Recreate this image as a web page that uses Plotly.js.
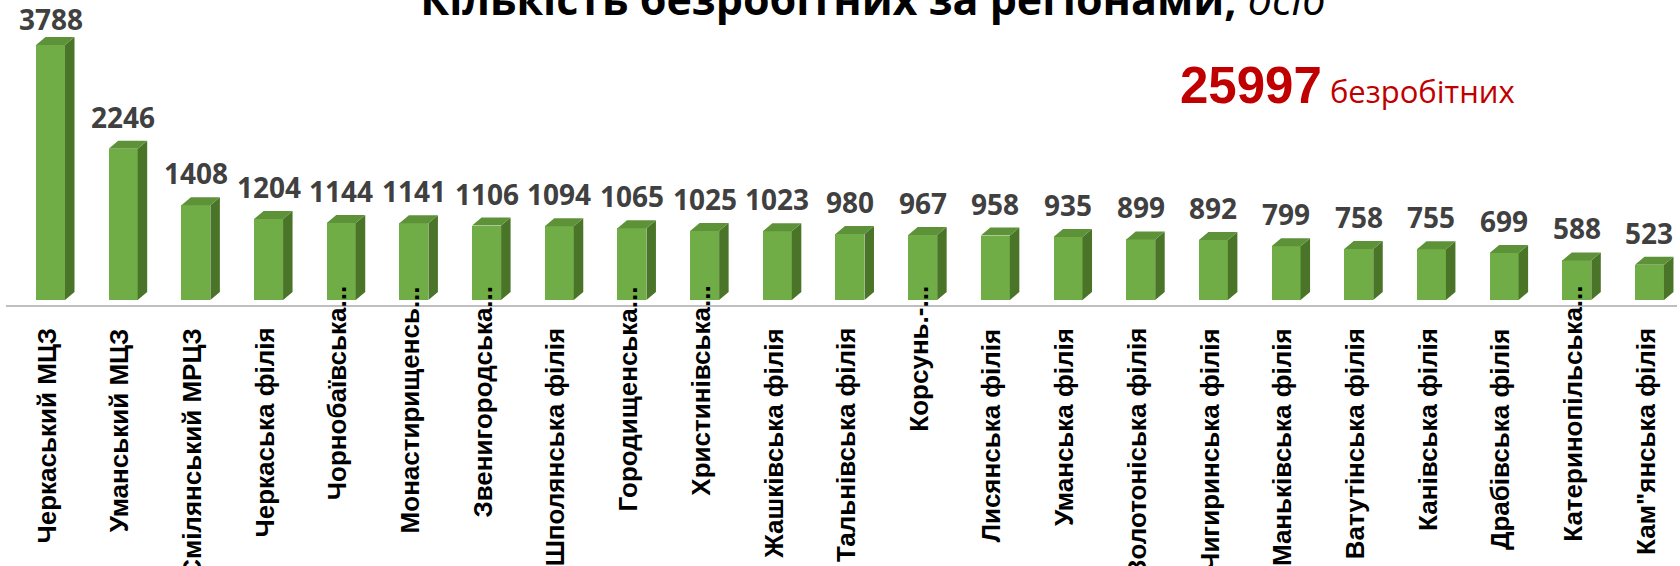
<!DOCTYPE html>
<html>
<head>
<meta charset="utf-8">
<script src="https://cdn.plot.ly/plotly-3.0.1.min.js"></script>
<style>
html,body{margin:0;padding:0;background:#ffffff;}
#chart{width:1680px;height:566px;}
</style>
</head>
<body>
<div id="chart"></div>
<script>
// ---- data ----
const categories = [
  'Черкаський МЦЗ', 'Уманський МЦЗ', 'Смілянський МРЦЗ', 'Черкаська філія',
  'Чорнобаївська...', 'Монастирищенсь...', 'Звенигородська...', 'Шполянська філія',
  'Городищенська...', 'Христинівська...', 'Жашківська філія', 'Тальнівська філія',
  'Корсунь.-...', 'Лисянська філія', 'Уманська філія', 'Золотоніська філія',
  'Чигиринська філія', 'Маньківська філія', 'Ватутінська філія', 'Канівська філія',
  'Драбівська філія', 'Катеринопільська...', 'Кам"янська філія'
];
const values = [
  3788, 2246, 1408, 1204,
  1144, 1141, 1106, 1094,
  1065, 1025, 1023, 980,
  967, 958, 935, 899,
  892, 799, 758, 755,
  699, 588, 523
];
const totalValue = 25997;
const totalWord = 'безробітних';
const titleMain = 'Кількість безробітних за регіонами';
const titleUnit = 'осіб';

// ---- layout constants ----
const W = 1680, H = 566;
const plotBottom = 300;            // pixel row of the value axis zero
const plotH = plotBottom;          // margin.t = 0
const xRange = [-0.695, 22.42];
const yRange = [0, 4456];
const pxPerCat = W / (xRange[1] - xRange[0]);
const pxPerUnit = plotH / (yRange[1] - yRange[0]);
const frontPx = 29, depthX = 9.5, depthY = 8;
const half = frontPx / 2;
const depthYData = depthY / pxPerUnit;

const colFront = '#70AD47', colTop = '#5E9239', colSide = '#4A7529';

const xs = categories.map((_, i) => i);

const barTrace = {
  type: 'bar',
  x: xs,
  y: values,
  width: frontPx / pxPerCat,
  marker: {color: colFront, line: {width: 0}},
  hoverinfo: 'skip',
  showlegend: false
};

const shapes = [];
xs.forEach((xi, i) => {
  const v = values[i];
  // side face (x in pixels from the bar centre, y in data units)
  shapes.push({
    type: 'path', xref: 'x', yref: 'y',
    xsizemode: 'pixel', xanchor: xi,
    path: `M ${half} 0 L ${half + depthX} ${depthYData} L ${half + depthX} ${v + depthYData} L ${half} ${v} Z`,
    fillcolor: colSide, line: {width: 0}, layer: 'above'
  });
  // top face (pixels from the bar top)
  shapes.push({
    type: 'path', xref: 'x', yref: 'y',
    xsizemode: 'pixel', ysizemode: 'pixel', xanchor: xi, yanchor: v,
    path: `M ${-half} 0 L ${half} 0 L ${half + depthX} ${depthY} L ${-half + depthX} ${depthY} Z`,
    fillcolor: colTop, line: {width: 0}, layer: 'above'
  });
});
// floor line
shapes.push({
  type: 'line', xref: 'paper', yref: 'paper',
  x0: 6 / W, x1: 1677 / W, y0: -6 / plotH, y1: -6 / plotH,
  line: {color: '#BFBFBF', width: 2}
});

const annotations = [];
// value labels (kept inside the chart area, like the original)
const valueFontSize = 28;
const valueBoxH = 1.36 * valueFontSize + 2;
xs.forEach((xi, i) => {
  const topPx = plotBottom - values[i] * pxPerUnit;
  annotations.push({
    x: xi, y: values[i], xref: 'x', yref: 'y',
    text: '<b>' + values[i] + '</b>',
    showarrow: false, xanchor: 'center', yanchor: 'bottom',
    yshift: Math.min(11, topPx - valueBoxH),
    font: {family: 'Open Sans', size: valueFontSize, color: '#404040'}
  });
});
// category labels
xs.forEach((xi, i) => {
  const truncated = categories[i].endsWith('...');
  annotations.push({
    x: xi, y: 0, xref: 'x', yref: 'y',
    text: '<b>' + categories[i] + '</b>',
    textangle: -90,
    showarrow: false, xanchor: 'center', yanchor: 'top',
    xshift: -4, yshift: truncated ? 16 : -26,
    font: {family: 'Liberation Sans', size: 26, color: '#000000'}
  });
});
// total
annotations.push({
  xref: 'paper', yref: 'paper', x: 1178 / W, y: (plotBottom - 116) / plotH,
  xanchor: 'left', yanchor: 'bottom', showarrow: false,
  text: '<b>' + totalValue + '</b><span style="font-family:\'Open Sans\';font-size:31px"> ' + totalWord + '</span>',
  font: {family: 'Liberation Sans', size: 51, color: '#C00000'}
});

const layout = {
  width: W, height: H,
  margin: {l: 0, r: 0, t: 0, b: H - plotBottom, pad: 0},
  paper_bgcolor: '#ffffff', plot_bgcolor: '#ffffff',
  title: {
    text: '<b>' + titleMain + ',</b> <i>' + titleUnit + '</i>',
    font: {family: 'Open Sans', size: 43, color: '#000000'},
    xref: 'container', x: 873 / W, xanchor: 'center',
    yref: 'container', y: 1, yanchor: 'middle'
  },
  xaxis: {range: xRange, showgrid: false, zeroline: false, showline: false, showticklabels: false, ticks: '', fixedrange: true},
  yaxis: {range: yRange, showgrid: false, zeroline: false, showline: false, showticklabels: false, ticks: '', fixedrange: true},
  bargap: 0,
  shapes: shapes,
  annotations: annotations,
  showlegend: false
};

Plotly.newPlot('chart', [barTrace], layout, {displayModeBar: false, staticPlot: true});
</script>
</body>
</html>
